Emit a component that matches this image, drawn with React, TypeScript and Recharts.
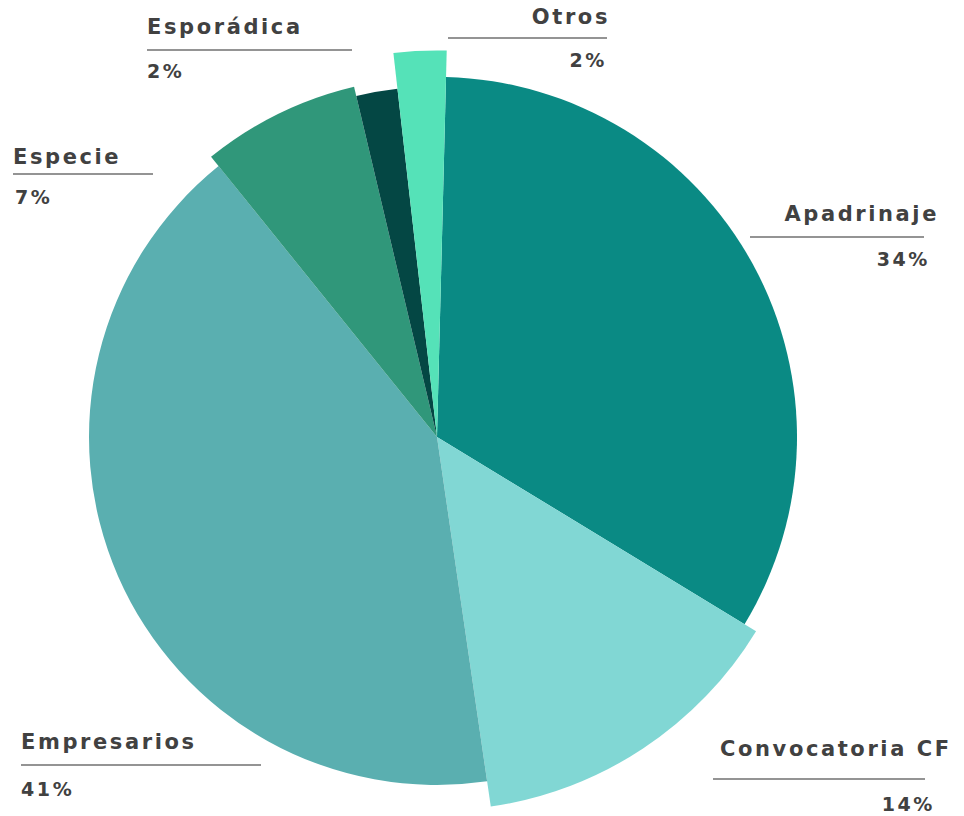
import React from "react";
import { PieChart, Pie, Cell } from "recharts";

const CATEGORIES = ["Apadrinaje", "Convocatoria CF", "Empresarios", "Especie", "Esporádica", "Otros"];
// slice shares
const VALUES = [33.3, 14.0, 41.5, 7.1, 1.9, 2.2];
// percentages as printed on the chart
const PCT_LABELS = ["34%", "14%", "41%", "7%", "2%", "2%"];

const COLORS: Record<string, string> = {
  Apadrinaje: "#0a8a84",
  "Convocatoria CF": "#81d7d4",
  Empresarios: "#5aafb0",
  Especie: "#30977a",
  "Esporádica": "#044744",
  Otros: "#55e2b8",
};

// each slice has its own outer radius in the original
const RADII: Record<string, number> = {
  Apadrinaje: 360,
  "Convocatoria CF": 373.5,
  Empresarios: 348,
  Especie: 360,
  "Esporádica": 350.5,
  Otros: 386.5,
};

type LabelPos = {
  nameX: number; nameY: number; nameAnchor: "start" | "end";
  lineX1: number; lineX2: number; lineY: number;
  pctX: number; pctY: number; pctAnchor: "start" | "end";
};

const LABELS: Record<string, LabelPos> = {
  Apadrinaje:        { nameX: 939, nameY: 214, nameAnchor: "end",   lineX1: 750, lineX2: 924, lineY: 237, pctX: 930, pctY: 259, pctAnchor: "end" },
  "Convocatoria CF": { nameX: 720, nameY: 749, nameAnchor: "start", lineX1: 713, lineX2: 925, lineY: 779, pctX: 935, pctY: 804, pctAnchor: "end" },
  Empresarios:       { nameX: 21,  nameY: 742, nameAnchor: "start", lineX1: 21,  lineX2: 261, lineY: 765, pctX: 21,  pctY: 789, pctAnchor: "start" },
  Especie:           { nameX: 13,  nameY: 157, nameAnchor: "start", lineX1: 13,  lineX2: 153, lineY: 174, pctX: 15,  pctY: 197, pctAnchor: "start" },
  "Esporádica":      { nameX: 147, nameY: 27,  nameAnchor: "start", lineX1: 147, lineX2: 352, lineY: 50,  pctX: 147, pctY: 71,  pctAnchor: "start" },
  Otros:             { nameX: 610, nameY: 17,  nameAnchor: "end",   lineX1: 448, lineX2: 607, lineY: 38,  pctX: 607, pctY: 60,  pctAnchor: "end" },
};

const FONT = "'DejaVu Sans', sans-serif";
const TEXT_COLOR = "#414141";
const START = 88.56;

export default function App() {
  const data = CATEGORIES.map((name, i) => ({ name, value: VALUES[i], pct: PCT_LABELS[i] }));

  return (
    <div style={{ position: "absolute", left: 0, top: 0, width: 964, height: 816, background: "#fff" }}>
      <PieChart width={964} height={816} margin={{ top: 0, right: 0, bottom: 0, left: 0 }}>
        {CATEGORIES.map(slice => (
          <Pie
            key={slice}
            data={data}
            dataKey="value"
            nameKey="name"
            cx={437}
            cy={437}
            innerRadius={0}
            outerRadius={RADII[slice]}
            startAngle={START}
            endAngle={START - 360}
            stroke="none"
            isAnimationActive={false}
            labelLine={false}
          >
            {data.map(d => (
              <Cell key={d.name} fill={d.name === slice ? COLORS[slice] : "transparent"} stroke="none" />
            ))}
          </Pie>
        ))}
      </PieChart>

      {/* labels with underline */}
      <svg width={964} height={816} style={{ position: "absolute", left: 0, top: 0, pointerEvents: "none" }}>
        {data.map(d => {
          const p = LABELS[d.name];
          return (
            <g key={d.name}>
              <text x={p.nameX} y={p.nameY} textAnchor={p.nameAnchor} dominantBaseline="central"
                fill={TEXT_COLOR} fontFamily={FONT} fontWeight={700} fontSize={21} letterSpacing={2.6}>
                {d.name}
              </text>
              <line x1={p.lineX1} x2={p.lineX2} y1={p.lineY} y2={p.lineY} stroke="#707070" strokeWidth={1.5} />
              <text x={p.pctX} y={p.pctY} textAnchor={p.pctAnchor} dominantBaseline="central"
                fill={TEXT_COLOR} fontFamily={FONT} fontWeight={700} fontSize={19} letterSpacing={2.6}>
                {d.pct}
              </text>
            </g>
          );
        })}
      </svg>
    </div>
  );
}
